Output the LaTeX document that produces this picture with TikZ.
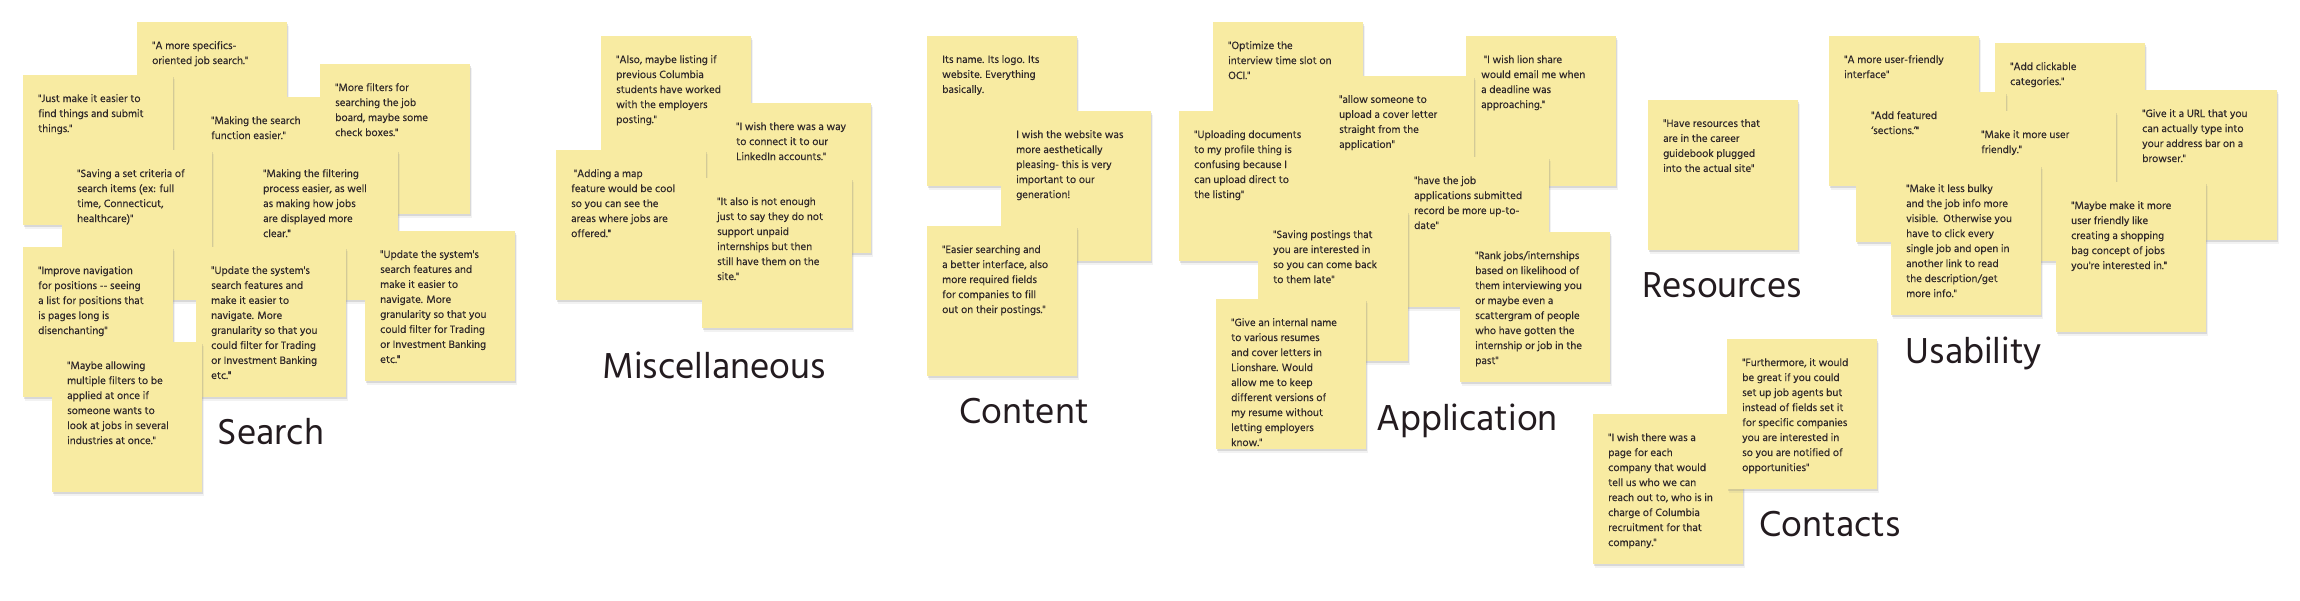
\documentclass[tikz,border=0pt]{standalone}
\usepackage{fontspec}
\newfontfamily\hind{Hind Madurai}
\newfontfamily\hindnote[FakeBold=0.25]{Hind Madurai}
\usetikzlibrary{shadows}
\definecolor{notecol}{HTML}{F8EBA2}
\definecolor{notetxt}{HTML}{2E2729}
\definecolor{labtxt}{HTML}{231B1F}
\tikzset{
 notebox/.style={anchor=north west, minimum width=150pt, minimum height=150pt, inner sep=0pt, fill=notecol,
   drop shadow={shadow xshift=1.5pt, shadow yshift=-3.5pt, opacity=0.10},
   drop shadow={shadow xshift=0.8pt, shadow yshift=-2pt, opacity=0.22}},
 notetext/.style={anchor=north west, align=left, inner sep=0pt, font=\hindnote\fontsize{11}{15}\selectfont, text=notetxt},
 grouplabel/.style={anchor=base, inner sep=0pt, font=\hind\fontsize{37}{40}\selectfont, text=labtxt}
}
\newcommand\note[4]{\node[notebox] (#1) at (#2,#3) {};
  \node[notetext] (#1t) at ([xshift=15pt,yshift=-19pt]#1.north west) {#4};}
\begin{document}
\begin{tikzpicture}[x=1pt,y=-1pt]
\fill[white] (0,0) rectangle (2300,600);
\useasboundingbox (0,0) rectangle (2300,600);
% ---------- Search ----------
\note{s1}{137}{22}{"A more specifics-\\oriented job search."}
\note{s2}{23}{75}{"Just make it easier to\\find things and submit\\things."}
\note{s3}{196}{97}{"Making the search\\function easier."}
\note{s4}{320}{64}{"More filters for\\searching the job\\board, maybe some\\check boxes."}
\note{s5}{62}{150}{"Saving a set criteria of\\search items (ex: full\\time, Connecticut,\\healthcare)"}
\note{s6}{248}{150}{"Making the filtering\\process easier, as well\\as making how jobs\\are displayed more\\clear."}
\note{s7}{23}{247}{"Improve navigation\\for positions -{}- seeing\\a list for positions that\\is pages long is\\disenchanting"}
\note{s8}{196}{247}{"Update the system's\\search features and\\make it easier to\\navigate. More\\granularity so that you\\could filter for Trading\\or Investment Banking\\etc."}
\note{s9}{365}{231}{"Update the system's\\search features and\\make it easier to\\navigate. More\\granularity so that you\\could filter for Trading\\or Investment Banking\\etc."}
\note{s10}{52}{342}{"Maybe allowing\\multiple filters to be\\applied at once if\\someone wants to\\look at jobs in several\\industries at once."}
\node[grouplabel] (lsearch) at (271,444) {Search};
% ---------- Miscellaneous ----------
\note{s11}{601}{36}{"Also, maybe listing if\\previous Columbia\\students have worked\\with the employers\\posting."}
\note{s12}{721}{103}{"I wish there was a way\\to connect it to our\\LinkedIn accounts."}
\note{s13}{556}{150}{\ "Adding a map\\feature would be cool\\so you can see the\\areas where jobs are\\offered."}
\note{s14}{702}{178}{"It also is not enough\\just to say they do not\\support unpaid\\internships but then\\still have them on the\\site."}
\node[grouplabel] (lmisc) at (714,378) {Miscellaneous};
% ---------- Content ----------
\note{s15}{927}{36}{Its name. Its logo. Its\\website. Everything\\basically.}
\note{s16}{1001}{111}{I wish the website was\\more aesthetically\\pleasing- this is very\\important to our\\generation!}
\note{s17}{927}{226}{"Easier searching and\\a better interface, also\\more required fields\\for companies to fill\\out on their postings."}
\node[grouplabel] (lcontent) at (1024,423) {Content};
% ---------- Application ----------
\note{s18}{1213}{22}{"Optimize the\\interview time slot on\\OCI."}
\note{s21}{1466}{36}{\ "I wish lion share\\would email me when\\a deadline was\\approaching."}
\note{s20}{1179}{111}{"Uploading documents\\to my profile thing is\\confusing because I\\can upload direct to\\the listing"}
\note{s19}{1324}{76}{"allow someone to\\upload a cover letter\\straight from the\\application"}
\note{s22}{1399}{157}{"have the job\\applications submitted\\record be more up-to-\\date"}
\note{s23}{1258}{211}{"Saving postings that\\you are interested in\\so you can come back\\to them late"}
\note{s24}{1460}{232}{"Rank jobs/internships\\based on likelihood of\\them interviewing you\\or maybe even a\\scattergram of people\\who have gotten the\\internship or job in the\\past"}
\note{s25}{1216}{299}{"Give an internal name\\to various resumes\\and cover letters in\\Lionshare. Would\\allow me to keep\\different versions of\\my resume without\\letting employers\\know."}
\node[grouplabel] (lapp) at (1467,430) {Application};
% ---------- Resources ----------
\note{s26}{1648}{100}{"Have resources that\\are in the career\\guidebook plugged\\into the actual site"}
\node[grouplabel] (lres) at (1722,297) {Resources};
% ---------- Usability ----------
\note{s27}{1829}{36}{"A more user-friendly\\interface"}
\note{s28}{1995}{43}{"Add clickable\\categories."}
\note{s29}{1856}{92}{"Add featured\\‘sections.’"}
\note{s30}{1966}{111}{"Make it more user\\friendly."}
\note{s31}{2127}{90}{"Give it a URL that you\\can actually type into\\your address bar on a\\browser."}
\note{s32}{1891}{165}{"Make it less bulky\\and the job info more\\visible.\ \ Otherwise you\\have to click every\\single job and open in\\another link to read\\the description/get\\more info."}
\note{s33}{2056}{182}{"Maybe make it more\\user friendly like\\creating a shopping\\bag concept of jobs\\you're interested in."}
\node[grouplabel] (lusab) at (1974,363) {Usability};
% ---------- Contacts ----------
\note{s35}{1593}{414}{"I wish there was a\\page for each\\company that would\\tell us who we can\\reach out to, who is in\\charge of Columbia\\recruitment for that\\company."}
\note{s34}{1727}{339}{"Furthermore, it would\\be great if you could\\set up job agents but\\instead of fields set it\\for specific companies\\you are interested in\\so you are notified of\\opportunities"}
\node[grouplabel] (lcont) at (1830,536) {Contacts};
\end{tikzpicture}
\end{document}
